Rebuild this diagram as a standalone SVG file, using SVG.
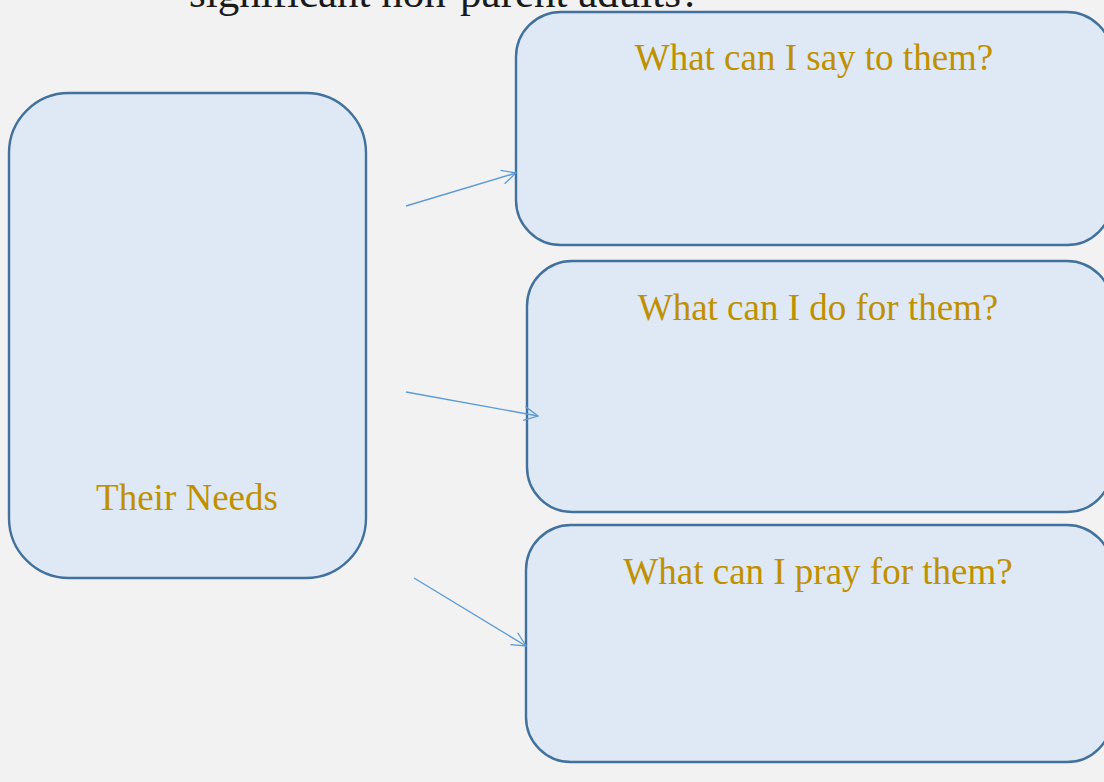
<svg xmlns="http://www.w3.org/2000/svg" width="1104" height="782" viewBox="0 0 1104 782">
  <style>
    .box { fill: #dee9f5; stroke: #41719c; stroke-width: 2.4; }
    .label { font-family: "Liberation Serif", "Times New Roman", serif; font-size: 37px; fill: #bf9000; text-anchor: middle; }
    .title { font-family: "Liberation Serif", "Times New Roman", serif; font-size: 43px; fill: #1a1a1a; }
    .link { stroke: #5b9bd5; stroke-width: 1.4; fill: none; marker-end: url(#open); }
  </style>
  <defs>
    <marker id="open" viewBox="0 0 16 16" refX="15" refY="8" markerWidth="16" markerHeight="16" markerUnits="userSpaceOnUse" orient="auto">
      <path d="M1,1 L15,8 L1,15" fill="none" stroke="#5b9bd5" stroke-width="1.3"/>
    </marker>
  </defs>
  <rect width="1104" height="782" fill="#f2f2f2"/>

  <text class="title" x="189" y="7">significant non-parent adults?</text>

  <g id="needs">
    <rect class="box" x="9" y="93" width="357" height="485" rx="60" ry="60"/>
    <text class="label" x="187" y="510">Their Needs</text>
  </g>

  <g id="say">
    <rect class="box" x="516" y="12" width="596" height="233" rx="45" ry="45"/>
    <text class="label" x="814" y="70">What can I say to them?</text>
  </g>

  <g id="do">
    <rect class="box" x="527" y="261" width="585" height="251" rx="45" ry="45"/>
    <text class="label" x="818" y="320">What can I do for them?</text>
  </g>

  <g id="pray">
    <rect class="box" x="526" y="525" width="586" height="237" rx="45" ry="45"/>
    <text class="label" x="818" y="584">What can I pray for them?</text>
  </g>

  <g id="connectors">
    <line class="link" x1="406" y1="206" x2="516" y2="173"/>
    <line class="link" x1="406" y1="392" x2="538" y2="416"/>
    <line class="link" x1="414" y1="578" x2="526" y2="646"/>
  </g>
</svg>
